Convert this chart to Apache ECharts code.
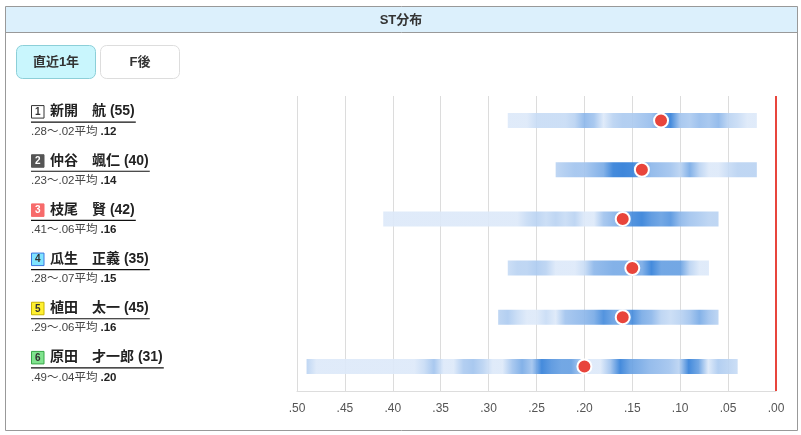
<!DOCTYPE html>
<html>
<head>
<meta charset="utf-8">
<script src="https://cdn.jsdelivr.net/npm/echarts@6/dist/echarts.min.js"></script>
<style>
html,body{margin:0;padding:0;background:#fff;}
#main{width:801px;height:435px;}
</style>
</head>
<body>
<div id="main"></div>
<script>
// ---- data ----
var title = 'ST分布';
var tabs = ['直近1年', 'F後'];
var lanes = ['1', '2', '3', '4', '5', '6'];
var players = ['新開　航', '仲谷　颯仁', '枝尾　賢', '瓜生　正義', '植田　太一', '原田　才一郎'];
var counts = [55, 40, 42, 35, 45, 31];
var maxST = [0.28, 0.23, 0.41, 0.28, 0.29, 0.49];
var minST = [0.02, 0.02, 0.06, 0.07, 0.06, 0.04];
var avgST = [0.12, 0.14, 0.16, 0.15, 0.16, 0.20];
// density levels (1 light .. 10 dark) per 0.01 step, from maxST down to minST
var density1 = [1, 1, 1, 1.5, 1.5, 1.5, 1.5, 2, 4, 3, 1, 2, 2.5, 2.5, 3, 3.5, 6, 9, 3, 2.5, 3.5, 3, 4, 2, 1.5, 1, 1];
var density2 = [2, 2.5, 3, 3, 4, 5, 9, 9.5, 9, 6, 4, 3.5, 3, 2, 5, 2, 1, 1, 1.5, 2, 2, 2];
var density3 = [1, 1, 1, 1, 1, 1, 1, 1, 1, 1, 1, 1, 1, 1, 1, 1.5, 2, 1.5, 2, 1.5, 2, 1, 1, 3, 4, 5, 8, 9, 7, 6, 7, 4, 3, 2.5, 2, 2];
var density4 = [1.5, 2, 2, 2.5, 2, 1, 1, 1, 1.5, 4, 4.5, 5, 5, 5, 5, 9, 6, 6, 6, 2, 1, 1];
var density5 = [2, 2.5, 1.5, 1, 1, 1.5, 1, 3, 3.5, 4, 5, 8, 6, 5, 8, 5, 4, 2, 1.5, 2, 3, 5, 3, 2];
var density6 = [2, 1, 1, 1, 1, 1, 1, 1, 1, 1, 1, 1, 1.5, 3, 1, 1, 2.5, 3, 2, 1, 1, 3, 5, 3, 9, 7, 6, 6, 3, 1, 1, 3, 9, 6, 5, 4, 3.5, 3, 2, 9, 6, 1, 2.5, 2, 1.5];
var densities = [density1, density2, density3, density4, density5, density6];
var xTicks = [0, 0.05, 0.10, 0.15, 0.20, 0.25, 0.30, 0.35, 0.40, 0.45, 0.50];

var laneStyle = [
  {fill: '#ffffff', stroke: '#333333', text: '#333333'},
  {fill: '#555555', stroke: '#555555', text: '#ffffff'},
  {fill: '#f76b6b', stroke: '#f76b6b', text: '#ffffff'},
  {fill: '#80e4ff', stroke: '#3a78e0', text: '#333333'},
  {fill: '#fff030', stroke: '#c8b400', text: '#333333'},
  {fill: '#80e38e', stroke: '#38a848', text: '#333333'}
];

function fmt(v) { return '.' + (Math.round(v * 100) + 100).toString().slice(1); }

var light = [221, 233, 249], dark = [38, 119, 214];
function levelColor(L) {
  var t = Math.pow(Math.max(0, Math.min(1, (L - 1) / 9)), 0.75);
  var c = light.map(function (a, i) { return Math.round(a + (dark[i] - a) * t); });
  return 'rgba(' + c[0] + ',' + c[1] + ',' + c[2] + ',0.92)';
}

var stripData = players.map(function (p, i) { return [maxST[i], minST[i], i]; });
var dotData = players.map(function (p, i) { return [avgST[i], i]; });

var chart = echarts.init(document.getElementById('main'));
var option = {
  animation: false,
  grid: {left: 297, right: 25, top: 96, bottom: 44},
  xAxis: {
    type: 'value', min: 0, max: 0.5, interval: 0.05, inverse: true,
    axisLine: {show: true, lineStyle: {color: '#dddddd'}},
    axisTick: {show: false},
    splitLine: {show: true, lineStyle: {color: '#dcdcdc'}},
    axisLabel: {color: '#555', fontSize: 12, fontFamily: 'Liberation Sans, Arial, sans-serif', margin: 12,
      formatter: function (v) { return fmt(v); }}
  },
  yAxis: {
    type: 'category', data: players, inverse: true,
    axisLine: {show: false}, axisTick: {show: false}, axisLabel: {show: false}, splitLine: {show: false}
  },
  series: [
    {
      type: 'custom',
      data: stripData,
      encode: {x: [0, 1], y: 2},
      renderItem: function (params, api) {
        var i = api.value(2);
        var p1 = api.coord([api.value(0), i]);
        var p2 = api.coord([api.value(1), i]);
        var h = 15;
        var d = densities[i];
        var stops = d.map(function (L, k) {
          return {offset: d.length > 1 ? k / (d.length - 1) : 0, color: levelColor(L)};
        });
        return {
          type: 'rect',
          shape: {x: p1[0], y: p1[1] - h / 2, width: p2[0] - p1[0], height: h},
          style: {fill: new echarts.graphic.LinearGradient(0, 0, 1, 0, stops)}
        };
      },
      z: 2
    },
    {
      type: 'scatter',
      data: dotData,
      symbolSize: 14,
      itemStyle: {color: '#e8453c', borderColor: '#ffffff', borderWidth: 2, opacity: 1},
      z: 5,
      markLine: {
        silent: true, symbol: 'none', label: {show: false},
        lineStyle: {color: '#e8453c', width: 2, type: 'solid'},
        data: [{xAxis: 0}]
      }
    }
  ]
};
chart.setOption(option);

// ---- decorations & left labels ----
var measure = document.createElement('canvas').getContext('2d');
var nameFont = 'bold 14px "Liberation Sans", Arial, "Noto Sans CJK JP", sans-serif';
var subFont = '11.5px "Liberation Sans", Arial, "Noto Sans CJK JP", sans-serif';

var g = [];
g.push({type: 'rect', shape: {x: 5.5, y: 6.5, width: 792, height: 26}, style: {fill: '#dcf0fc', stroke: null}, z: 0});
g.push({type: 'line', shape: {x1: 5, y1: 32.5, x2: 798, y2: 32.5}, style: {stroke: '#999', lineWidth: 1}, z: 1});
g.push({type: 'rect', shape: {x: 5.5, y: 6.5, width: 792, height: 424}, style: {fill: null, stroke: '#999', lineWidth: 1}, z: 1});
g.push({type: 'text', style: {text: title, x: 401, y: 20, textAlign: 'center', textVerticalAlign: 'middle',
  font: 'bold 13px "Liberation Sans", Arial, "Noto Sans CJK JP", sans-serif', fill: '#333'}, z: 2});
// tabs
g.push({type: 'rect', shape: {x: 16.5, y: 45.5, width: 79, height: 33, r: 6}, style: {fill: '#c9f6fd', stroke: '#8ccfd8'}, z: 1});
g.push({type: 'text', style: {text: tabs[0], x: 56, y: 62, textAlign: 'center', textVerticalAlign: 'middle',
  font: 'bold 13px "Liberation Sans", Arial, "Noto Sans CJK JP", sans-serif', fill: '#333'}, z: 2});
g.push({type: 'rect', shape: {x: 100.5, y: 45.5, width: 79, height: 33, r: 6}, style: {fill: '#ffffff', stroke: '#dddddd'}, z: 1});
g.push({type: 'text', style: {text: tabs[1], x: 140, y: 62, textAlign: 'center', textVerticalAlign: 'middle',
  font: 'bold 13px "Liberation Sans", Arial, "Noto Sans CJK JP", sans-serif', fill: '#333'}, z: 2});

players.forEach(function (p, i) {
  var yc = chart.convertToPixel({yAxisIndex: 0}, p);
  var s = laneStyle[i];
  var nameText = p + ' (' + counts[i] + ')';
  measure.font = nameFont;
  var w = measure.measureText(nameText).width;
  g.push({type: 'rect', shape: {x: 31.5, y: yc - 15, width: 12.5, height: 12.5}, style: {fill: s.fill, stroke: s.stroke, lineWidth: 1}, z: 2});
  g.push({type: 'text', style: {text: lanes[i], x: 37.8, y: yc - 8.5, textAlign: 'center', textVerticalAlign: 'middle',
    font: 'bold 10px "Liberation Sans", Arial, sans-serif', fill: s.text}, z: 3});
  g.push({type: 'text', style: {text: nameText, x: 50, y: yc - 9, textAlign: 'left', textVerticalAlign: 'middle',
    font: nameFont, fill: '#222'}, z: 2});
  g.push({type: 'line', shape: {x1: 31, y1: yc + 1.5, x2: 51 + w, y2: yc + 1.5}, style: {stroke: '#111', lineWidth: 1.2}, z: 2});
  var pre = fmt(maxST[i]) + '〜' + fmt(minST[i]) + '平均';
  measure.font = subFont;
  var pw = measure.measureText(pre).width;
  g.push({type: 'text', style: {text: pre, x: 31, y: yc + 11, textAlign: 'left', textVerticalAlign: 'middle',
    font: subFont, fill: '#444'}, z: 2});
  g.push({type: 'text', style: {text: fmt(avgST[i]), x: 31 + pw + 3, y: yc + 11, textAlign: 'left', textVerticalAlign: 'middle',
    font: 'bold 11.5px "Liberation Sans", Arial, sans-serif', fill: '#222'}, z: 2});
});
chart.setOption({graphic: {elements: g}});
</script>
</body>
</html>
